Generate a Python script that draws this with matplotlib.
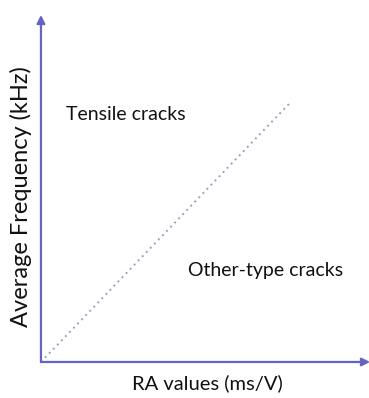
import matplotlib.pyplot as plt

# diagonal separating the two crack types (axes units, 0..1)
diag_x = [0.0, 0.76]
diag_y = [0.0, 0.75]

x_label = "RA values (ms/V)"
y_label = "Average Frequency (kHz)"
region_labels = ["Tensile cracks", "Other-type cracks"]
region_pos = [(0.075, 0.712), (0.447, 0.265)]

plt.rcParams['font.family'] = ['Lato', 'DejaVu Sans']

fig = plt.figure(figsize=(3.69, 3.98), dpi=100)
fig.patch.set_facecolor('white')
ax = fig.add_axes([0.111, 0.0905, 0.892, 0.872])
ax.set_xlim(0, 1)
ax.set_ylim(0, 1)
ax.axis('off')

axis_col = '#6464c4'

# axes drawn as arrows
ax.annotate('', xy=(1.0, 0), xytext=(0, 0),
            arrowprops=dict(arrowstyle='-|>', color=axis_col, lw=1.6,
                            mutation_scale=12, shrinkA=0, shrinkB=0),
            annotation_clip=False)
ax.annotate('', xy=(0, 1.0), xytext=(0, 0),
            arrowprops=dict(arrowstyle='-|>', color=axis_col, lw=1.6,
                            mutation_scale=12, shrinkA=0, shrinkB=0),
            annotation_clip=False)

ax.plot(diag_x, diag_y, linestyle=(0, (1, 2)), color='#a49cc8', lw=1.4)

for txt, (tx, ty) in zip(region_labels, region_pos):
    ax.text(tx, ty, txt, fontsize=14, color='#111111', ha='left', va='center')

fig.text(0.562, 0.036, x_label, fontsize=14.5, color='#111111', ha='center', va='center')
fig.text(0.058, 0.505, y_label, fontsize=17, color='#111111', ha='center', va='center',
         rotation=90)

fig.savefig('out.png', dpi=100, facecolor='white')
